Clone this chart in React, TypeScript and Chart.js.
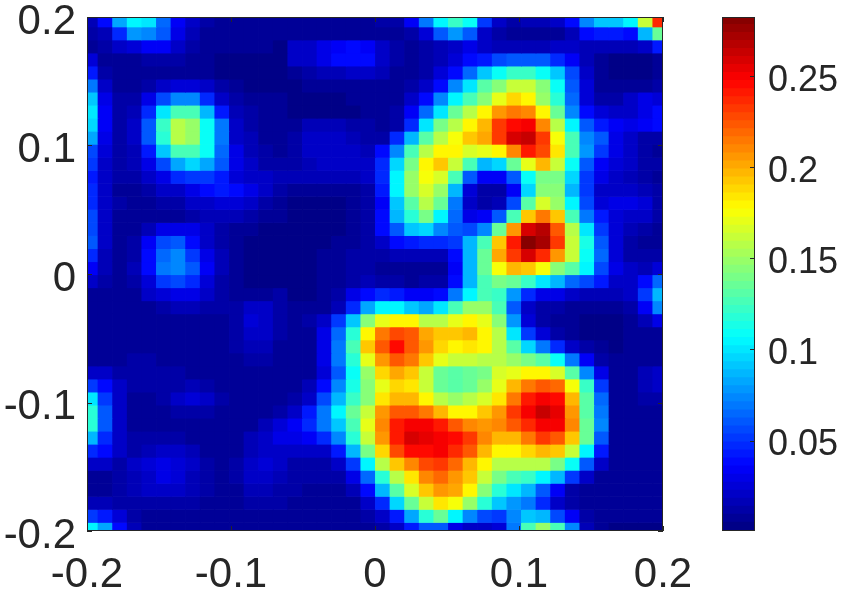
import React, { useEffect, useRef } from "react";
import { Chart, registerables } from "chart.js";

Chart.register(...registerables);

// Values in thousandths, top row first.
const heatRows: number[][] = [
  [15,37,80,105,100,65,35,20,10,6,6,6,6,6, 5,5,5,5,5,6,10,12,35,70,105,120,110, 50,18,10,15,15,18,38,75,90,90,105,160,235],
  [10,15,45,78,75,58,30,15,8,6,6,6,6,6, 5,5,5,5,5,6,8,8,12,25,60,78,60, 18,10,6,5,8,8,14,38,40,40,38,85,135],
  [8,10,18,25,33,35,22,12,6,5,5,5,5,4, 18,22,28,35,36,35,22,10,8,10,15,22,30, 18,16,16,16,16,18,20,16,14,14,16,22,42],
  [25,8,8,8,10,12,10,8,5,4,4,4,4,4, 18,22,28,36,37,36,22,10,8,10,15,25,38, 42,55,58,58,58,48,35,15,5,4,4,4,8],
  [42,12,6,6,6,8,8,6,5,4,4,4,4,4, 8,12,14,15,18,18,14,8,8,12,25,38,65, 90,108,120,120,108,90,55,20,6,4,4,4,6],
  [70,22,8,8,12,22,25,25,22,12,5,4,4,4, 4,6,6,6,6,6,8,8,12,22,38,72,100, 130,145,160,160,145,110,60,25,8,6,6,8,12],
  [90,30,10,12,30,55,72,72,45,22,10,8,6,5, 4,4,4,4,6,6,6,8,20,38,75,105,128, 145,172,188,178,150,115,65,25,12,10,20,30,25],
  [100,32,10,16,45,100,125,125,85,42,15,10,8,6, 4,4,4,4,4,6,6,12,32,65,100,135,155, 178,205,215,208,180,135,75,38,25,22,22,30,38],
  [95,32,10,18,62,120,155,150,108,68,20,12,8,6, 8,16,16,14,12,10,8,12,45,100,140,158,178, 195,232,245,248,208,155,105,58,42,32,30,35,36],
  [80,28,10,18,62,118,158,150,110,68,22,14,8,6, 10,18,20,20,16,12,12,48,85,130,155,175,192, 200,230,258,262,232,175,125,75,58,28,18,12,12],
  [55,24,10,16,42,92,125,128,108,65,28,16,10,8, 10,18,22,20,18,16,36,72,125,158,178,180,165, 170,178,210,240,228,182,125,78,50,28,20,10,8],
  [50,22,10,14,28,55,80,95,82,62,28,22,12,10, 12,15,18,20,20,20,48,95,140,178,190,160,125, 85,95,135,172,195,160,108,62,35,25,18,12,10],
  [42,22,10,10,18,30,48,52,50,42,25,22,20,15, 15,15,16,16,16,18,48,105,148,175,165,125,60, 32,32,60,108,140,140,95,52,30,20,15,12,8],
  [48,20,8,8,10,18,22,28,38,40,38,30,18,10, 5,5,5,5,6,12,40,102,150,165,148,85,25, 12,12,35,95,145,145,85,50,20,18,18,14,10],
  [45,22,10,6,8,10,12,18,22,25,24,18,12,8, 4,4,4,4,6,12,35,90,130,155,135,70,20, 12,15,55,130,165,150,105,55,25,30,28,25,10],
  [55,20,8,6,6,6,8,12,14,14,14,12,8,6, 4,4,4,4,5,12,38,85,118,138,105,65,28, 35,60,125,190,215,190,125,70,40,25,22,20,12],
  [55,18,8,8,16,28,28,28,20,12,8,6,4,4, 4,4,4,4,6,10,38,60,90,95,72,60,55, 75,135,205,260,268,225,155,100,50,25,15,10,6],
  [58,18,8,10,32,55,58,38,22,12,8,4,4,4, 4,4,4,8,8,12,22,38,42,48,48,50,88, 125,192,240,280,272,232,160,112,62,25,10,8,6],
  [48,14,8,12,38,65,72,52,28,14,6,4,4,4, 4,4,5,8,10,10,12,14,16,14,14,36,88, 135,200,232,258,235,205,160,110,65,25,12,10,10],
  [35,14,8,14,36,70,75,62,32,14,6,4,4,4, 4,4,5,8,12,10,8,8,6,6,6,35,85, 135,175,195,190,175,145,130,105,55,28,20,15,25],
  [20,12,8,12,26,50,55,48,25,12,6,4,4,4, 4,4,5,8,10,14,12,10,8,10,12,38,85, 125,140,135,120,100,85,65,55,40,20,20,38,65],
  [8,8,6,8,20,25,28,28,20,10,6,6,8,10, 4,4,6,10,28,38,45,42,35,32,38,70,105, 125,120,78,45,30,28,22,16,14,14,18,50,85],
  [6,6,5,6,8,12,14,16,12,10,10,20,18,10, 5,6,8,15,45,80,105,105,92,82,100,128,150, 150,125,62,22,12,10,8,5,5,5,10,32,75],
  [5,5,5,5,6,8,8,8,8,8,12,26,22,10, 8,10,18,50,90,142,172,178,178,158,158,168,180, 168,142,78,25,10,8,5,4,4,4,8,14,28],
  [5,5,5,5,5,6,6,6,6,6,10,22,18,10, 5,8,28,65,118,180,215,228,222,200,192,190,195, 180,155,100,50,25,12,6,4,4,4,5,8,8],
  [5,5,5,5,5,5,5,5,5,5,10,14,14,8, 5,8,28,68,125,192,225,245,225,205,188,180,185, 178,158,132,95,68,45,22,10,6,4,5,6,6],
  [6,6,8,10,10,8,6,5,5,5,8,10,10,8, 5,6,30,68,118,168,205,222,215,190,170,160,160, 158,155,150,140,130,110,70,32,12,6,6,8,8],
  [22,22,12,10,10,10,10,8,6,6,5,5,5,5, 5,8,25,60,108,150,188,200,190,162,135,130,135, 140,165,172,178,178,165,130,75,30,8,5,14,22],
  [52,38,18,10,10,10,12,14,12,8,5,5,5,5, 5,14,38,72,112,145,170,188,182,160,135,130,135, 150,170,195,215,225,220,175,120,50,8,5,14,22],
  [100,50,20,8,8,12,20,24,22,10,6,5,5,6, 10,22,55,88,122,145,182,198,198,178,155,148,155, 165,185,215,240,250,245,195,130,65,8,5,10,10],
  [115,62,20,8,6,8,10,12,10,8,6,5,6,12, 20,40,70,102,135,162,205,225,225,215,198,180,180, 190,205,230,250,262,252,205,130,68,6,5,5,5],
  [118,62,18,8,6,6,6,6,6,6,6,8,16,25, 32,45,68,92,128,172,212,240,250,250,240,225,208, 205,210,225,238,250,248,208,135,75,6,5,5,5],
  [85,48,18,10,10,10,10,8,6,6,8,14,22,30, 30,32,48,72,118,160,205,240,258,255,250,245,232, 210,198,198,215,230,222,190,135,62,6,5,5,5],
  [48,38,18,10,14,20,20,14,8,6,8,16,22,20, 22,20,20,42,85,138,188,228,245,245,248,235,225, 195,178,178,188,198,190,160,105,42,5,5,5,5],
  [22,22,12,18,24,30,26,20,12,6,10,20,26,20, 12,12,12,20,52,105,155,190,212,228,232,218,198, 178,155,158,158,155,140,110,58,22,5,5,5,5],
  [8,8,10,16,22,28,24,16,10,6,10,18,20,14, 10,10,10,12,28,65,118,155,185,208,220,205,190, 160,140,125,120,105,85,52,18,8,5,5,5,5],
  [6,6,10,14,18,22,22,16,10,6,8,14,14,10, 10,8,8,8,14,38,85,130,165,190,205,200,180, 145,118,100,85,60,35,12,8,5,5,5,5,5],
  [16,16,12,10,10,10,10,10,8,6,8,12,12,10, 8,6,6,6,8,18,45,95,135,162,182,175,148, 118,90,78,68,45,22,10,6,5,5,5,5,5],
  [52,42,25,10,6,6,6,6,6,5,5,6,6,6, 6,6,6,6,6,10,20,42,82,118,135,105,75, 55,50,72,90,85,55,35,10,5,5,5,5,5],
  [105,82,36,16,6,6,6,6,6,5,5,5,5,5, 6,5,5,5,5,6,12,22,40,60,62,28,18, 18,25,70,125,150,125,72,15,6,4,4,4,4],
];

const axisTicks = [-0.2, -0.1, 0, 0.1, 0.2];
const axisTickLabels = ["-0.2", "-0.1", "0", "0.1", "0.2"];
const barTicks = [0.05, 0.1, 0.15, 0.2, 0.25];
const barTickLabels = ["0.05", "0.1", "0.15", "0.2", "0.25"];

const valueMin = 0.0003;
const valueMax = 0.2826;
const levels = 64;

const gridStep = { x: 0.010139, y: 0.010148 };
const firstCenter = { x: -0.19743, y: 0.19729 };

const textColor = "#262626";
const overlap = 1.05;
const labelDrop = 5;

const clamp = (v: number) => Math.min(1, Math.max(0, v));
function jet(value: number) {
  const q = Math.min(levels - 1, Math.floor(clamp((value - valueMin) / (valueMax - valueMin)) * levels));
  const t = (q + 0.5) / levels;
  const r = clamp(Math.min(4 * t - 1.5, -4 * t + 4.5));
  const g = clamp(Math.min(4 * t - 0.5, -4 * t + 3.5));
  const b = clamp(Math.min(4 * t + 0.5, -4 * t + 2.5));
  return `rgb(${Math.round(r * 255)},${Math.round(g * 255)},${Math.round(b * 255)})`;
}

function framePlugin(tickSides: { bottom?: boolean; left?: boolean; right?: boolean }) {
  return {
    id: "frame",
    afterLayout(chart: any) {
      // The reference's y tick labels sit a little below their tick.
      chart.scales.y.getLabelItems(chart.chartArea).forEach((item: any) => {
        item.textOffset += labelDrop;
      });
    },
    afterDatasetsDraw(chart: any) {
      const { ctx, chartArea: a, scales } = chart;
      ctx.save();
      ctx.strokeStyle = textColor;
      ctx.lineWidth = 1;
      ctx.strokeRect(a.left + 0.5, a.top + 0.5, a.right - a.left - 1, a.bottom - a.top - 1);
      ctx.beginPath();
      const len = 5;
      if (tickSides.bottom) {
        for (const t of axisTicks) {
          const p = Math.round(scales.x.getPixelForValue(t)) + 0.5;
          ctx.moveTo(p, a.bottom);
          ctx.lineTo(p, a.bottom - len);
          ctx.moveTo(p, a.top);
          ctx.lineTo(p, a.top + len);
        }
      }
      if (tickSides.left) {
        for (const t of axisTicks) {
          const p = Math.round(scales.y.getPixelForValue(t)) + 0.5;
          ctx.moveTo(a.left, p);
          ctx.lineTo(a.left + len, p);
          ctx.moveTo(a.right, p);
          ctx.lineTo(a.right - len, p);
        }
      }
      if (tickSides.right) {
        for (const t of barTicks) {
          const p = Math.round(scales.y.getPixelForValue(t)) + 0.5;
          ctx.moveTo(a.right, p);
          ctx.lineTo(a.right - len, p);
        }
      }
      ctx.stroke();
      ctx.restore();
    },
  };
}

export default function App() {
  const mainRef = useRef<HTMLCanvasElement>(null);
  const barRef = useRef<HTMLCanvasElement>(null);

  useEffect(() => {
    document.body.style.margin = "0";
    document.body.style.background = "#fff";

    const datasets = heatRows.map((row, r) => {
      const c = firstCenter.y - r * gridStep.y;
      const h = (gridStep.y * overlap) / 2;
      return {
        data: row.map((v, k) => ({ x: firstCenter.x + k * gridStep.x, y: [c - h, c + h] })),
        backgroundColor: row.map((v) => jet(v / 1000)),
        borderWidth: 0,
        grouped: false,
        barPercentage: overlap,
        categoryPercentage: 1,
      };
    });

    const main = new Chart(mainRef.current!, {
      type: "bar",
      data: { datasets: datasets as any },
      options: {
        responsive: false,
        devicePixelRatio: 1,
        animation: false,
        events: [],
        layout: { autoPadding: false, padding: { top: 17, right: 181, bottom: 0, left: 0 } },
        plugins: { legend: { display: false }, tooltip: { enabled: false } },
        scales: {
          x: {
            type: "linear",
            min: -0.2,
            max: 0.2,
            offset: false,
            grid: { display: false, drawTicks: false },
            border: { display: false },
            afterBuildTicks: (s: any) => { s.ticks = axisTicks.map((value) => ({ value })); },
            afterFit: (s: any) => { s.height = 60; s.paddingLeft = 0; s.paddingRight = 0; },
            ticks: {
              autoSkip: false,
              maxRotation: 0,
              padding: 19,
              color: textColor,
              font: { family: "Liberation Sans", size: 42 },
              callback: (_v: any, i: number) => axisTickLabels[i],
            },
          },
          y: {
            type: "linear",
            min: -0.2,
            max: 0.2,
            grid: { display: false, drawTicks: false },
            border: { display: false },
            afterBuildTicks: (s: any) => { s.ticks = axisTicks.map((value) => ({ value })); },
            afterFit: (s: any) => { s.width = 87; s.paddingTop = 0; s.paddingBottom = 0; },
            ticks: {
              autoSkip: false,
              padding: 11,
              color: textColor,
              font: { family: "Liberation Sans", size: 42 },
              callback: (_v: any, i: number) => axisTickLabels[i],
            },
          },
        },
      } as any,
      plugins: [framePlugin({ bottom: true, left: true })],
    });

    const barLevels = Array.from({ length: levels }, (_, i) => i);
    const bar = new Chart(barRef.current!, {
      type: "bar",
      data: {
        labels: [""],
        datasets: barLevels.map((i) => {
          const lo = valueMin + ((valueMax - valueMin) * i) / levels;
          const hi = valueMin + ((valueMax - valueMin) * (i + 1.1)) / levels;
          return {
            data: [[lo, Math.min(hi, valueMax)]],
            backgroundColor: jet((lo + lo + (valueMax - valueMin) / levels) / 2),
            borderWidth: 0,
            grouped: false,
            barPercentage: 1,
            categoryPercentage: 1,
          };
        }) as any,
      },
      options: {
        responsive: false,
        devicePixelRatio: 1,
        animation: false,
        events: [],
        layout: { autoPadding: false, padding: { top: 17, right: 0, bottom: 60, left: 722 } },
        plugins: { legend: { display: false }, tooltip: { enabled: false } },
        scales: {
          x: { display: false },
          y: {
            type: "linear",
            position: "right",
            min: valueMin,
            max: valueMax,
            grid: { display: false, drawTicks: false },
            border: { display: false },
            afterBuildTicks: (s: any) => { s.ticks = barTicks.map((value) => ({ value })); },
            afterFit: (s: any) => { s.width = 89; s.paddingTop = 0; s.paddingBottom = 0; },
            ticks: {
              autoSkip: false,
              padding: 13,
              color: textColor,
              font: { family: "Liberation Sans", size: 36 },
              callback: (_v: any, i: number) => barTickLabels[i],
            },
          },
        },
      } as any,
      plugins: [framePlugin({ right: true })],
    });

    return () => {
      main.destroy();
      bar.destroy();
    };
  }, []);

  const canvasStyle: React.CSSProperties = { position: "absolute", left: 0, top: 0 };
  return (
    <div style={{ position: "absolute", left: 0, top: 0, width: 844, height: 591, background: "#fff" }}>
      <canvas ref={mainRef} width={844} height={591} style={canvasStyle} />
      <canvas ref={barRef} width={844} height={591} style={canvasStyle} />
    </div>
  );
}
